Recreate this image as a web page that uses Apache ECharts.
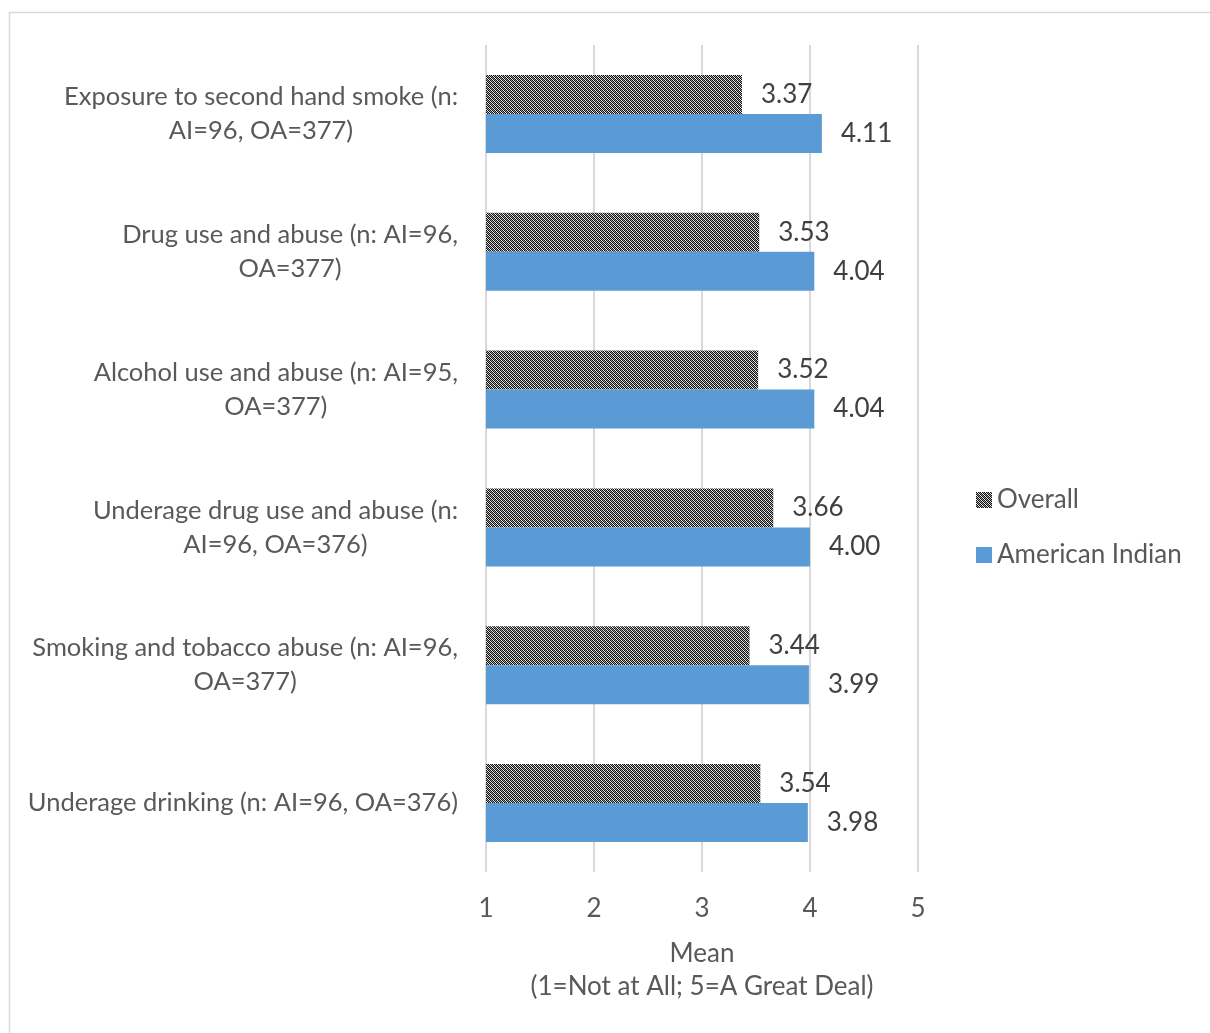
<!DOCTYPE html>
<html>
<head>
<meta charset="utf-8">
<script src="https://cdn.jsdelivr.net/npm/echarts@6/dist/echarts.min.js"></script>
<style>
html,body{margin:0;padding:0;background:#fff;}
#chart{width:1210px;height:1033px;}
</style>
</head>
<body>
<div id="chart"></div>
<script>
var categories = [
  'Exposure to second hand smoke (n:\nAI=96, OA=377)',
  'Drug use and abuse (n: AI=96,\nOA=377)',
  'Alcohol use and abuse (n: AI=95,\nOA=377)',
  'Underage drug use and abuse (n:\nAI=96, OA=376)',
  'Smoking and tobacco abuse (n: AI=96,\nOA=377)',
  'Underage drinking (n: AI=96, OA=376)'
];
var overallValues = [3.37, 3.53, 3.52, 3.66, 3.44, 3.54];
var americanIndianValues = [4.11, 4.04, 4.04, 4.00, 3.99, 3.98];
var seriesNames = ['Overall', 'American Indian'];
var axisTicks = [1, 2, 3, 4, 5];

var FONT = 'Lato';
var FS = 26;

// dark dithered diagonal pattern
var pc = document.createElement('canvas');
pc.width = 4; pc.height = 4;
var pctx = pc.getContext('2d');
for (var y = 0; y < 4; y++) {
  for (var x = 0; x < 4; x++) {
    var c;
    if ((x + y) % 2 === 0) c = '#111111';
    else if (((x - y) % 4 + 4) % 4 === 1) c = '#f2f2f2';
    else c = '#9a9a9a';
    pctx.fillStyle = c;
    pctx.fillRect(x, y, 1, 1);
  }
}
var patternFill = { image: pc, repeat: 'repeat' };

var chart = echarts.init(document.getElementById('chart'));
chart.setOption({
  backgroundColor: '#ffffff',
  animation: false,
  textStyle: { fontFamily: FONT },
  graphic: [{
    type: 'rect', left: 7, top: 10,
    shape: { x: 0, y: 0, width: 1300, height: 1100 },
    style: { fill: 'none', stroke: '#d9d9d9', lineWidth: 1.5 },
    silent: true
  }],
  grid: { left: 486, right: 292, top: 45, bottom: 161, containLabel: false },
  legend: {
    orient: 'vertical',
    left: 971, top: 482,
    itemWidth: 16, itemHeight: 16, itemGap: 29,
    icon: 'rect',
    data: seriesNames,
    textStyle: { fontFamily: FONT, fontSize: FS, color: '#595959' }
  },
  xAxis: {
    type: 'value', min: axisTicks[0], max: axisTicks[axisTicks.length - 1], interval: 1,
    axisLine: { show: false }, axisTick: { show: false },
    splitLine: { show: true, lineStyle: { color: '#d9d9d9', width: 2 } },
    axisLabel: { fontFamily: FONT, fontSize: FS, color: '#595959', margin: 24 },
    name: 'Mean\n(1=Not at All; 5=A Great Deal)',
    nameLocation: 'middle', nameGap: 65,
    nameTextStyle: { fontFamily: FONT, fontSize: FS, color: '#595959', lineHeight: 33 }
  },
  yAxis: {
    type: 'category', data: categories, inverse: true,
    axisLine: { show: false }, axisTick: { show: false },
    axisLabel: {
      fontFamily: FONT, fontSize: 25.5, color: '#595959', margin: 28, lineHeight: 34, align: 'right',
      formatter: function (v) {
        return v.split('\n').map(function (l) { return '{c|' + l + '}'; }).join('\n');
      },
      rich: { c: { align: 'center', fontFamily: FONT, fontSize: 25.5, color: '#595959', lineHeight: 34 } }
    }
  },
  series: [
    {
      name: seriesNames[0], type: 'bar', data: overallValues,
      barWidth: 39, barGap: '0%',
      itemStyle: { color: patternFill },
      label: { show: true, position: 'right', distance: 19, fontFamily: FONT, fontSize: FS, color: '#404040',
        formatter: function (p) { return p.value.toFixed(2); } }
    },
    {
      name: seriesNames[1], type: 'bar', data: americanIndianValues,
      barWidth: 39, barGap: '0%',
      itemStyle: { color: '#5b9bd5' },
      label: { show: true, position: 'right', distance: 19, fontFamily: FONT, fontSize: FS, color: '#404040',
        formatter: function (p) { return p.value.toFixed(2); } }
    }
  ]
});
</script>
</body>
</html>
